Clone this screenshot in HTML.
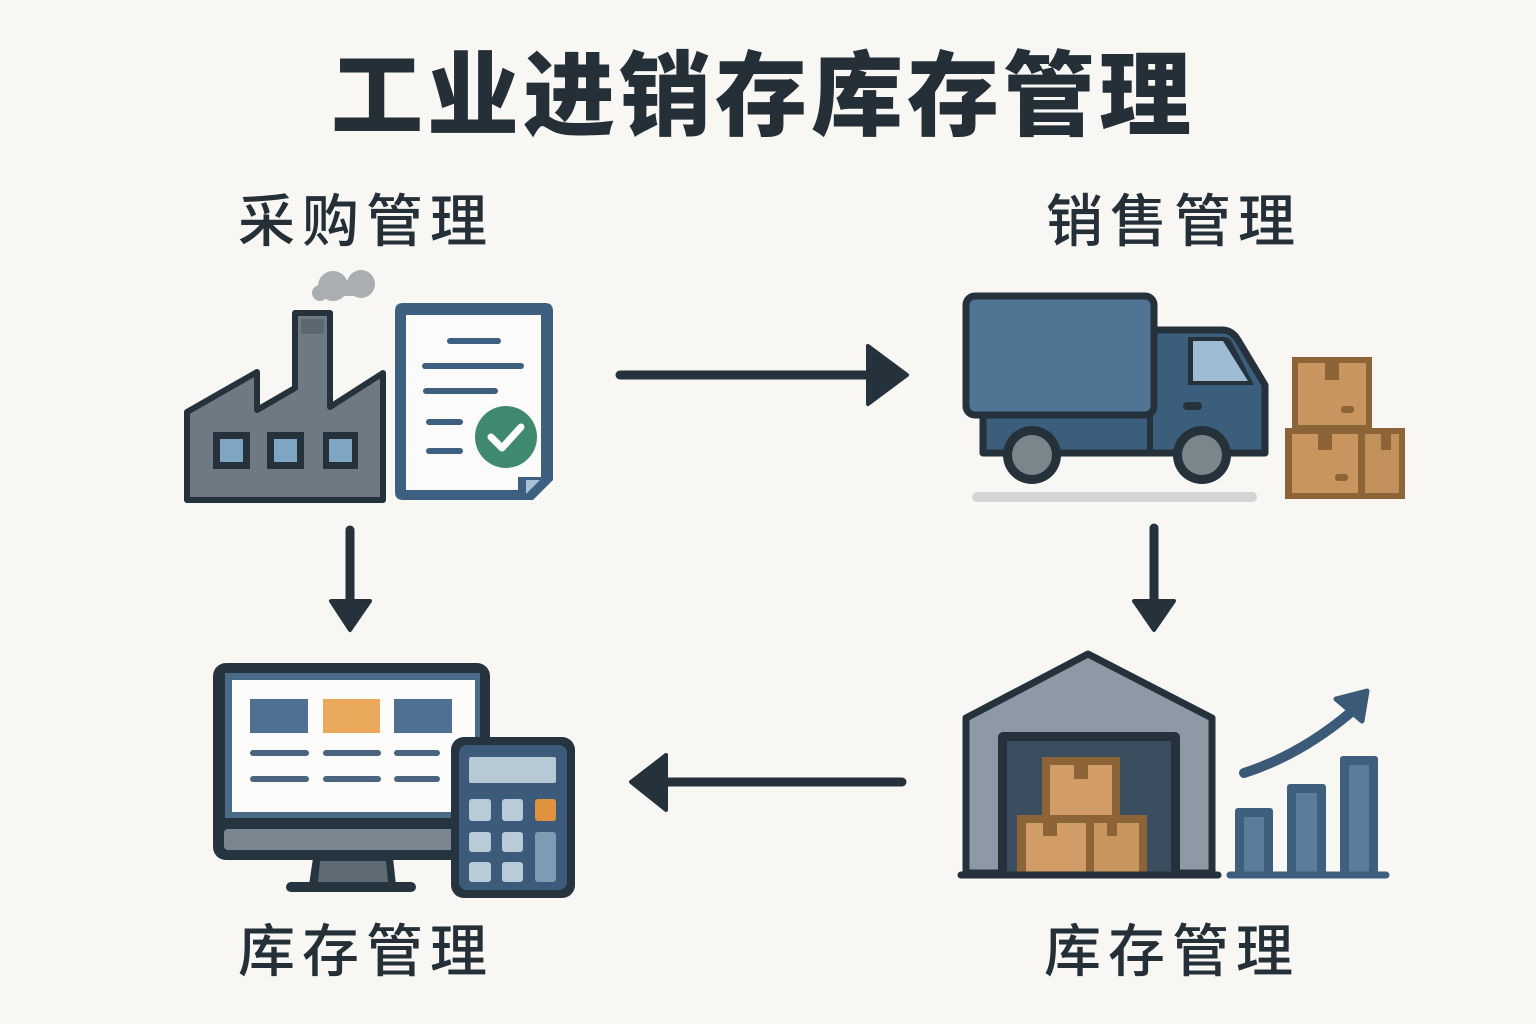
<!DOCTYPE html>
<html><head><meta charset="utf-8">
<style>
html,body{margin:0;padding:0;background:#f8f7f4;}
svg{display:block;}
.t{font-family:"Liberation Sans","Noto Sans CJK SC",sans-serif;fill:#252f37;}
</style></head>
<body>
<svg width="1536" height="1024" viewBox="0 0 1536 1024" xmlns="http://www.w3.org/2000/svg">
<rect width="1536" height="1024" fill="#f8f7f4"/>

<!-- Title -->
<text class="t" font-size="92" font-weight="900" y="128">
<tspan x="331">工</tspan><tspan x="427">业</tspan><tspan x="523">进</tspan><tspan x="619">销</tspan><tspan x="715">存</tspan><tspan x="811">库</tspan><tspan x="907">存</tspan><tspan x="1003">管</tspan><tspan x="1099">理</tspan>
</text>

<!-- Labels -->
<text class="t" font-size="57" font-weight="500" y="241">
<tspan x="238">采</tspan><tspan x="302">购</tspan><tspan x="366">管</tspan><tspan x="430">理</tspan>
</text>
<text class="t" font-size="57" font-weight="500" y="241">
<tspan x="1046">销</tspan><tspan x="1110">售</tspan><tspan x="1174">管</tspan><tspan x="1238">理</tspan>
</text>
<text class="t" font-size="57" font-weight="500" y="971">
<tspan x="238">库</tspan><tspan x="302">存</tspan><tspan x="366">管</tspan><tspan x="430">理</tspan>
</text>
<text class="t" font-size="57" font-weight="500" y="971">
<tspan x="1044">库</tspan><tspan x="1108">存</tspan><tspan x="1172">管</tspan><tspan x="1236">理</tspan>
</text>

<!-- Arrows -->
<g stroke="#25323c" fill="#25323c" stroke-linecap="round" stroke-linejoin="round">
  <line x1="620" y1="375" x2="872" y2="375" stroke-width="9"/>
  <polygon points="868,346 907,375 868,404" stroke-width="4"/>
  <line x1="350" y1="530" x2="350" y2="602" stroke-width="9"/>
  <polygon points="331,601 370,601 350,630" stroke-width="4"/>
  <line x1="1154" y1="528" x2="1154" y2="602" stroke-width="9"/>
  <polygon points="1134,601 1174,601 1154,630" stroke-width="4"/>
  <line x1="902" y1="782" x2="665" y2="782" stroke-width="9"/>
  <polygon points="666,755 631,782 666,810" stroke-width="4"/>
</g>

<!-- Factory -->
<g>
  <circle cx="333" cy="286" r="15" fill="#aaaeb1"/>
  <circle cx="361" cy="284" r="14" fill="#aaaeb1"/>
  <rect x="330" y="280" width="30" height="16" fill="#aaaeb1"/>
  <circle cx="320" cy="293" r="8" fill="#aaaeb1"/>
  <polygon points="187,412 257,372 257,410 295,388 295,313 330,313 330,407 383,373 383,500 187,500" fill="#6e7983" stroke="#25323c" stroke-width="6" stroke-linejoin="round"/>
  <rect x="301" y="319" width="23" height="15" fill="#5c6870"/>
  <g fill="#25323c">
    <rect x="213" y="432" width="37" height="37"/>
    <rect x="267" y="432" width="37" height="37"/>
    <rect x="323" y="432" width="35" height="37"/>
  </g>
  <g fill="#7ea5c2">
    <rect x="220" y="439" width="23" height="23"/>
    <rect x="274" y="439" width="23" height="23"/>
    <rect x="329" y="439" width="23" height="23"/>
  </g>
</g>

<!-- Document -->
<g>
  <path d="M403,303 H545 Q553,303 553,311 V480 L533,500 H403 Q395,500 395,492 V311 Q395,303 403,303 Z" fill="#3e6080"/>
  <path d="M406,315 H541 V477 H518 V490 H406 Z" fill="#fbfbfb"/>
  <polygon points="526,480 540,480 526,494" fill="#a9c2d6"/>
  <g stroke="#3e6080" stroke-width="6" stroke-linecap="round">
    <line x1="450" y1="341" x2="498" y2="341"/>
    <line x1="425" y1="366" x2="521" y2="366"/>
    <line x1="426" y1="391" x2="495" y2="391"/>
    <line x1="429" y1="422" x2="460" y2="422"/>
    <line x1="429" y1="451" x2="460" y2="451"/>
  </g>
  <circle cx="506" cy="437" r="31" fill="#3f8a6f"/>
  <polyline points="491,437 502,448 521,427" fill="none" stroke="#fff" stroke-width="7" stroke-linecap="round" stroke-linejoin="round"/>
</g>

<!-- Truck -->
<g>
  <rect x="972" y="492" width="285" height="10" rx="5" fill="#d3d4d4"/>
  <path d="M1150,330 H1222 Q1232,330 1238,340 L1265,385 V453 H983 V415 H1150 Z" fill="#3c5e7d" stroke="#25323c" stroke-width="7" stroke-linejoin="round"/>
  <rect x="966" y="296" width="188" height="119" rx="9" fill="#4f7494" stroke="#25323c" stroke-width="7"/>
  <line x1="1150" y1="415" x2="1150" y2="453" stroke="#25323c" stroke-width="6"/>
  <path d="M1188,337 H1224 Q1229,337 1232,342 L1254,385 H1188 Z" fill="#25323c"/>
  <path d="M1193,341 H1223 L1248,381 H1193 Z" fill="#9dbcd4"/>
  <rect x="1183" y="402" width="19" height="8" rx="4" fill="#25323c"/>
  <circle cx="1032" cy="455" r="29" fill="#25323c"/>
  <circle cx="1032" cy="455" r="20" fill="#7b858c"/>
  <circle cx="1202" cy="455" r="29" fill="#25323c"/>
  <circle cx="1202" cy="455" r="20" fill="#7b858c"/>
</g>

<!-- Boxes near truck -->
<g>
  <rect x="1292" y="357" width="80" height="72" fill="#8d6437"/>
  <rect x="1298" y="363" width="68" height="62" fill="#c8955f"/>
  <rect x="1325" y="363" width="14" height="17" fill="#8d6437"/>
  <rect x="1341" y="406" width="13" height="7" rx="3" fill="#8d6437"/>
  <rect x="1285" y="428" width="120" height="71" fill="#8d6437"/>
  <rect x="1292" y="434" width="66" height="59" fill="#c8955f"/>
  <rect x="1365" y="434" width="34" height="59" fill="#c2905b"/>
  <rect x="1318" y="434" width="14" height="16" fill="#8d6437"/>
  <rect x="1381" y="434" width="10" height="16" fill="#8d6437"/>
  <rect x="1335" y="474" width="13" height="7" rx="3" fill="#8d6437"/>
</g>

<!-- Monitor -->
<g>
  <rect x="213" y="663" width="277" height="197" rx="13" fill="#263440"/>
  <rect x="225" y="673" width="255" height="145" fill="#4b6a87"/>
  <rect x="232" y="680" width="243" height="132" fill="#fcfcfb"/>
  <rect x="224" y="829" width="232" height="21" rx="4" fill="#7a868f"/>
  <rect x="250" y="699" width="58" height="34" fill="#4f7093"/>
  <rect x="323" y="699" width="57" height="34" fill="#eaa95b"/>
  <rect x="394" y="699" width="58" height="34" fill="#4f7093"/>
  <g stroke="#4a6480" stroke-width="6" stroke-linecap="round">
    <line x1="253" y1="753" x2="306" y2="753"/>
    <line x1="326" y1="753" x2="378" y2="753"/>
    <line x1="397" y1="753" x2="437" y2="753"/>
    <line x1="253" y1="779" x2="306" y2="779"/>
    <line x1="326" y1="779" x2="378" y2="779"/>
    <line x1="397" y1="779" x2="437" y2="779"/>
  </g>
  <polygon points="313,858 393,858 396,885 309,885" fill="#263440"/>
  <polygon points="320,861 386,861 388,882 318,882" fill="#5f6b74"/>
  <rect x="286" y="882" width="130" height="10" rx="5" fill="#263440"/>
</g>

<!-- Calculator -->
<g>
  <rect x="451" y="737" width="124" height="161" rx="13" fill="#263440"/>
  <rect x="459" y="745" width="108" height="145" rx="8" fill="#3c5b7a"/>
  <rect x="469" y="757" width="87" height="26" rx="2" fill="#b8c9d6"/>
  <g fill="#b9cbd8">
    <rect x="469" y="799" width="22" height="22" rx="3"/>
    <rect x="502" y="799" width="21" height="22" rx="3"/>
    <rect x="469" y="832" width="22" height="20" rx="3"/>
    <rect x="502" y="832" width="21" height="20" rx="3"/>
    <rect x="469" y="862" width="22" height="20" rx="3"/>
    <rect x="502" y="862" width="21" height="20" rx="3"/>
  </g>
  <rect x="535" y="799" width="21" height="22" rx="3" fill="#e0923f"/>
  <rect x="535" y="832" width="21" height="50" rx="3" fill="#7f9bb3"/>
</g>

<!-- Warehouse -->
<g>
  <polygon points="966,718 1088,654 1212,718 1212,873 966,873" fill="#8d9aa6" stroke="#25323c" stroke-width="7" stroke-linejoin="round"/>
  <rect x="998" y="732" width="182" height="142" rx="5" fill="#25323c"/>
  <rect x="1007" y="741" width="164" height="133" fill="#3b4e60"/>
  <rect x="1042" y="757" width="78" height="59" fill="#8d6437"/>
  <rect x="1050" y="765" width="62" height="51" fill="#d19c66"/>
  <rect x="1074" y="765" width="14" height="14" fill="#8d6437"/>
  <rect x="1017" y="815" width="130" height="57" fill="#8d6437"/>
  <rect x="1026" y="823" width="60" height="49" fill="#d19c66"/>
  <rect x="1094" y="823" width="45" height="49" fill="#c8955f"/>
  <rect x="1043" y="823" width="14" height="13" fill="#8d6437"/>
  <rect x="1107" y="823" width="10" height="13" fill="#8d6437"/>
  <line x1="961" y1="875" x2="1218" y2="875" stroke="#25323c" stroke-width="7" stroke-linecap="round"/>
</g>

<!-- Bar chart -->
<g>
  <rect x="1235" y="808" width="38" height="68" rx="3" fill="#3e5f7e"/>
  <rect x="1244" y="817" width="20" height="56" fill="#5a7d9c"/>
  <rect x="1287" y="784" width="39" height="92" rx="3" fill="#3e5f7e"/>
  <rect x="1296" y="793" width="21" height="80" fill="#5a7d9c"/>
  <rect x="1340" y="756" width="38" height="120" rx="3" fill="#3e5f7e"/>
  <rect x="1349" y="765" width="20" height="108" fill="#5a7d9c"/>
  <line x1="1230" y1="875" x2="1386" y2="875" stroke="#3e5f7e" stroke-width="7" stroke-linecap="round"/>
  <path d="M1244,773 Q1300,755 1350,713" fill="none" stroke="#3b5a78" stroke-width="10" stroke-linecap="round"/>
  <polygon points="1336,699 1367,691 1362,721" fill="#3b5a78" stroke="#3b5a78" stroke-width="5" stroke-linejoin="round"/>
</g>
</svg>
</body></html>
